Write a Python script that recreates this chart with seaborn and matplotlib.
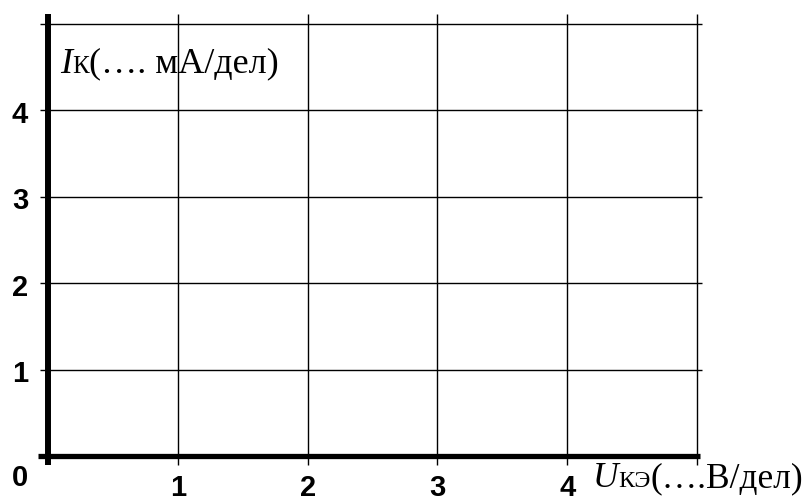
import matplotlib
matplotlib.use("Agg")
import matplotlib.pyplot as plt
from matplotlib.offsetbox import TextArea, HPacker, AnnotationBbox
import seaborn as sns

# grid divisions (empty characteristic sheet)
x_ticks = [0, 1, 2, 3, 4, 5]
y_ticks = [0, 1, 2, 3, 4, 5]
x_labels = ["", "1", "2", "3", "4", ""]
y_labels = ["0", "1", "2", "3", "4", ""]

y_axis_name = ["I", "К", "(…. мА/дел)"]
x_axis_name = ["U", "КЭ", "(….В/дел)"]

sns.set_theme(style="white")
plt.rcParams["font.family"] = ["Liberation Sans", "DejaVu Sans"]
plt.rcParams["text.color"] = "black"

fig = plt.figure(figsize=(8.08, 5.01), dpi=100)
ax = fig.add_axes([0, 0, 1, 1])
ax.set_xlim(-0.3698, 5.855)
ax.set_ylim(-0.5208, 5.278)
ax.axis("off")

# thin grid lines, sticking out a little past the frame
ax.vlines(x_ticks[1:], -0.104, 5.116, color="black", lw=1.0)
ax.hlines(y_ticks[1:], -0.062, 5.04, color="black", lw=1.0)

# thick axes
ax.vlines(0, -0.104, 5.116, color="black", lw=4.3)
ax.hlines(0, -0.077, 5.02, color="black", lw=3.8)

tick_font = dict(family="Liberation Sans", weight="bold", size=21, color="black")
for x, lab in zip(x_ticks, x_labels):
    if lab:
        ax.text(x, -0.37, lab, ha="center", va="center", **tick_font)
for y, lab in zip(y_ticks, y_labels):
    if lab:
        yy = -0.255 if y == 0 else y - 0.05
        ax.text(-0.216, yy, lab, ha="center", va="center", **tick_font)


def axis_name(parts, xy, big, small):
    serif = "Liberation Serif"
    boxes = [
        TextArea(parts[0], textprops=dict(family=serif, style="italic", size=big, color="black")),
        TextArea(parts[1], textprops=dict(family=serif, size=small, color="black")),
        TextArea(parts[2], textprops=dict(family=serif, size=big, color="black")),
    ]
    pack = HPacker(children=boxes, align="baseline", pad=0, sep=0)
    ab = AnnotationBbox(pack, xy, xycoords="data", box_alignment=(0, 0.5),
                        frameon=False, pad=0)
    ax.add_artist(ab)


axis_name(y_axis_name, (0.092, 4.537), 26, 18)
axis_name(x_axis_name, (4.199, -0.266), 25.5, 17.5)

plt.savefig("out.png", dpi=100)
